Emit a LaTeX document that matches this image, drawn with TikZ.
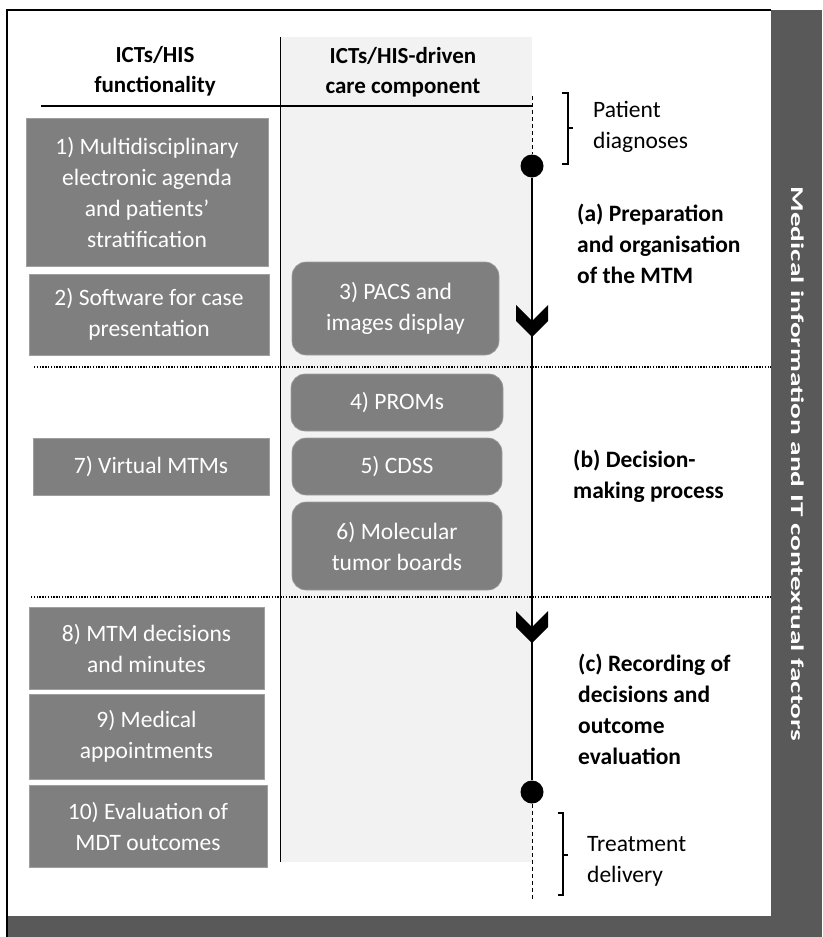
\documentclass[tikz,border=0pt]{standalone}
\usepackage{fontspec}
\setmainfont{Carlito}
\definecolor{band}{HTML}{595959}
\definecolor{boxgrey}{HTML}{7F7F7F}
\definecolor{colgrey}{HTML}{F2F2F2}
\begin{document}
\begin{tikzpicture}[x=1pt,y=-1pt,
  box/.style={fill=boxgrey, draw=boxgrey!75!white, line width=0.6pt, text=white,
    align=center, font=\fontsize{23.5}{31}\selectfont, inner sep=0pt},
  rbox/.style={box, rounded corners=14pt},
  header/.style={font=\fontsize{23}{30}\selectfont\bfseries, align=center, inner sep=0pt},
  phase/.style={font=\fontsize{23.5}{31}\selectfont\bfseries, align=left, anchor=west, inner sep=0pt},
  note/.style={font=\fontsize{23.5}{31}\selectfont, align=left, anchor=west, inner sep=0pt},
  stage/.style={circle, fill=black, minimum size=23pt, inner sep=0pt},
  timeline/.style={line width=2.2pt},
  guide/.style={line width=0.9pt, dash pattern=on 4pt off 3pt},
  divider/.style={line width=1.8pt, dash pattern=on 1.4pt off 1.4pt},
  bracket/.style={line width=1.8pt},
  chevron/.style={fill=black}
]
\useasboundingbox (0,0) rectangle (822,937);
\clip (0,0) rectangle (822,937);

% outer frame and dark bands
\fill[band] (771,10) rectangle (822,937);
\fill[band] (7,916) rectangle (822,937);
\draw[line width=2.8pt] (7,937) -- (7,10) -- (771,10);

% shaded middle column
\fill[colgrey] (280,37) rectangle (532,862);
\draw[line width=1pt] (280,37) -- (280,862);

% column headers
\node[header] (h1) at (155,71) {ICTs/HIS\\functionality};
\node[header] (h2) at (403,72) {ICTs/HIS-driven\\care component};
\coordinate (hl) at (41,106);
\coordinate (hr) at (532,106);
\draw[line width=1.2pt] (hl) -- (hr);

% section dividers
\coordinate (d1l) at (34,367);
\coordinate (d1r) at (771,367);
\coordinate (d2l) at (31,597);
\coordinate (d2r) at (771,597);
\draw[divider] (d1l) -- (d1r);
\draw[divider] (d2l) -- (d2r);

% functionality boxes
\node[box, minimum width=242pt, minimum height=148pt] (f1) at (147,192)
  {1) Multidisciplinary\\electronic agenda\\and patients’\\stratification};
\node[box, minimum width=240pt, minimum height=81pt] (f2) at (149,314.5)
  {2) Software for case\\presentation};
\node[box, minimum width=236pt, minimum height=57pt] (f7) at (151,466.5)
  {7) Virtual MTMs};
\node[box, minimum width=235pt, minimum height=82pt] (f8) at (146.5,648)
  {8) MTM decisions\\and minutes};
\node[box, minimum width=235pt, minimum height=85pt] (f9) at (146.5,736.5)
  {9) Medical\\appointments};
\node[box, minimum width=238pt, minimum height=82pt] (f10) at (148,826)
  {10) Evaluation of\\MDT outcomes};

% care component boxes
\node[rbox, minimum width=207pt, minimum height=93pt] (c3) at (395.5,308.5)
  {3) PACS and\\images display};
\node[rbox, minimum width=212pt, minimum height=57pt] (c4) at (397,402.5)
  {4) PROMs};
\node[rbox, minimum width=210pt, minimum height=57pt] (c5) at (397,466.5)
  {5) CDSS};
\node[rbox, minimum width=210pt, minimum height=88pt] (c6) at (397,546)
  {6) Molecular\\tumor boards};

% timeline
\node[stage] (s1) at (532,166) {};
\node[stage] (s2) at (532,792) {};
\coordinate (top) at (532,96);
\coordinate (bot) at (532,900);
\draw[guide] (top) -- (s1.north);
\draw[guide] (s2.south) -- (bot);
\draw[timeline] (s1) -- (s2);

% chevrons on the timeline
\fill[chevron] (532,337) -- (516,321) -- (516,305) -- (532,321) -- (548,305) -- (548,321) -- cycle;
\fill[chevron] (532,643) -- (516,627) -- (516,611) -- (532,627) -- (548,611) -- (548,627) -- cycle;

% brackets with start and end notes
\draw[bracket] (562,93) -- (568,93) -- (568,164) -- (562,164);
\draw[bracket] (568,128) -- (573,128);
\node[note] (pd) at (593,127) {Patient\\diagnoses};

\draw[bracket] (558,813) -- (563,813) -- (563,895) -- (558,895);
\draw[bracket] (563,855) -- (568,855);
\node[note] (td) at (587,861) {Treatment\\delivery};

% phase labels
\node[phase] (pa) at (577,244) {(a) Preparation\\and organisation\\of the MTM};
\node[phase] (pb) at (573,476) {(b) Decision-\\making process};
\node[phase] (pc) at (578,709) {(c) Recording of\\decisions and\\outcome\\evaluation};

% contextual factors band label, stretched along the band
\node[rotate=-90, text=white, inner sep=0pt, font=\fontsize{18}{18}\selectfont\bfseries] (ctx) at (798,464)
  {\scalebox{1.63}[1]{Medical information and IT contextual factors}};
\end{tikzpicture}
\end{document}
